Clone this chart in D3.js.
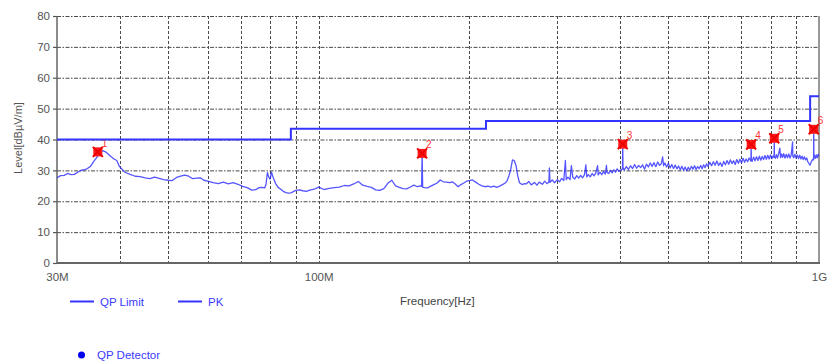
<!DOCTYPE html>
<html>
<head>
<meta charset="utf-8">
<script src="https://cdn.jsdelivr.net/npm/d3@7/dist/d3.min.js"></script>
<style>
  html, body { margin: 0; padding: 0; background: #ffffff; }
  svg { display: block; font-family: "Liberation Sans", Arial, sans-serif; }
</style>
</head>
<body>
<svg id="chart" width="827" height="364"></svg>
<script>
// Frequency axis (MHz)
const freqDomain = [30, 1000];
const freqGrid = [40, 50, 60, 70, 80, 90, 100, 200, 300, 400, 500, 600, 700, 800, 900, 1000];
const freqTickValues = [30, 100, 1000];
const freqTickLabels = ["30M", "100M", "1G"];

// Level axis (dBµV/m)
const levelDomain = [0, 80];
const levelTicks = [0, 10, 20, 30, 40, 50, 60, 70, 80];

// QP limit steps: [start MHz, end MHz, level]
const qpLimit = [
  [30, 88, 40],
  [88, 216, 43.5],
  [216, 960, 46],
  [960, 1000, 54]
];

// PK sweep: [MHz, dBµV/m]
const pkTrace = [
  [30, 27.6], [30.5, 28.3], [31, 28.4], [31.5, 29.0], [32, 28.6], [32.5, 28.7], [33, 29.4], [33.5, 30.0],
  [34, 30.2], [34.5, 30.6], [35, 31.3], [35.5, 32.8], [36, 34.1], [36.5, 35.4], [37, 36.4], [37.5, 36.0],
  [38, 35.2], [38.5, 34.4], [39, 33.7], [39.5, 33.2], [40, 31.2], [41, 29.4], [42, 28.7], [43, 28.1],
  [44, 28.0], [45, 27.6], [46, 27.3], [47, 27.8], [48, 27.4], [49, 27.0], [50, 26.8], [51, 26.7],
  [52, 27.7], [53, 28.1], [54, 28.5], [55, 28.1], [56, 27.3], [57, 27.5], [58, 27.6], [59, 26.8],
  [60, 26.5], [61.5, 26.0], [63, 25.7], [64.5, 26.2], [66, 25.6], [67.5, 26.0], [69, 25.5], [70.5, 24.8],
  [72, 24.4], [73.5, 23.6], [75, 23.8], [76, 24.4], [77, 24.5], [78, 24.3], [78.5, 25.5], [79, 29.3],
  [79.5, 27.8], [80, 27.2], [80.5, 29.4], [81, 28.0], [81.5, 26.9], [82, 25.8], [83, 24.5], [84, 23.9],
  [85, 23.2], [86, 22.8], [87, 22.6], [88, 22.7], [89, 23.1], [90, 23.5], [91.5, 23.7], [93, 23.4],
  [94.5, 23.2], [96, 23.6], [98, 23.9], [100, 24.6], [102.5, 23.8], [105, 24.2], [107.5, 24.4], [110, 24.6],
  [112.5, 25.1], [115, 25.0], [117.5, 25.6], [120, 26.4], [122.5, 25.2], [125, 24.8], [127.5, 24.5], [130, 23.7],
  [132.5, 23.5], [135, 24.1], [137.5, 25.8], [140, 26.8], [142.5, 25.0], [145, 24.5], [147.5, 24.1], [150, 24.0],
  [152.5, 24.6], [155, 25.2], [157.5, 24.7], [159.5, 25.0], [160.6, 24.8], [161, 35.5], [161.4, 24.6], [162.5, 24.4],
  [165, 24.3], [167.5, 24.9], [170, 25.4], [172.5, 25.9], [175, 26.9], [177.5, 26.3], [180, 26.2], [182.5, 26.0],
  [185, 26.3], [187.5, 25.6], [190, 24.7], [192.5, 25.4], [195, 25.9], [197.5, 26.5], [200, 26.7], [203, 26.9],
  [206, 26.2], [209, 25.5], [212, 25.0], [215, 24.7], [218, 24.9], [221, 24.6], [224, 24.9], [227, 24.5],
  [230, 24.9], [233, 25.4], [236, 25.9], [238, 26.6], [240, 28.2], [242, 30.2], [244, 33.4], [246, 33.2],
  [248, 31.6], [250, 28.2], [252, 26.0], [255, 25.4], [258, 25.7], [260, 25.6], [263, 26.4], [266, 25.3],
  [270, 26.1], [273, 25.2], [276, 26.2], [280, 25.5], [283, 26.5], [286, 25.7], [288.5, 26.2], [289.2, 30.8],
  [290, 26.1], [293, 26.9], [296, 26.0], [300, 27.0], [303, 26.3], [306, 27.4], [309, 26.7], [311.3, 33.2],
  [312.5, 27.0], [315, 27.8], [318, 27.0], [320, 31.5], [322, 27.8], [325, 27.2], [328, 28.3], [331, 27.5],
  [334, 28.4], [337, 27.6], [340, 28.7], [342, 31.8], [343.5, 27.9], [346, 28.6], [349, 27.9], [352, 29.0],
  [355, 28.2], [358, 29.1], [361, 31.5], [362, 28.5], [365, 29.4], [368, 28.6], [371, 29.6], [374, 28.8],
  [376, 31.6], [377, 29.3], [380, 29.0], [383, 30.0], [386, 29.2], [389, 30.2], [392, 29.4], [395, 30.5],
  [398, 29.7], [400, 30.0], [404.8, 30.4], [405.3, 38.5], [405.8, 30.9], [408, 30.1], [412, 31.2], [416, 30.3],
  [420, 31.5], [424, 30.6], [428, 31.9], [432, 30.7], [436, 31.6], [440, 30.9], [444, 31.8], [448, 30.4],
  [452, 32.0], [456, 31.1], [460, 32.4], [464, 31.3], [468, 32.5], [472, 31.2], [476, 32.7], [480, 31.6],
  [484, 32.2], [487, 34.4], [489, 31.5], [492, 32.4], [496, 31.1], [500, 32.3], [504, 30.8], [508, 31.9],
  [512, 30.6], [516, 31.7], [520, 30.5], [524, 31.4], [528, 30.2], [532, 31.3], [536, 30.0], [540, 31.1],
  [544, 29.9], [548, 31.0], [552, 30.1], [556, 31.3], [560, 30.4], [564, 31.5], [568, 30.3], [572, 31.2],
  [576, 30.6], [580, 31.6], [584, 30.5], [588, 31.8], [592, 30.9], [596, 32.1], [600, 31.3], [605, 32.6],
  [610, 31.5], [615, 32.8], [620, 31.7], [625, 33.0], [630, 31.6], [635, 32.5], [640, 31.3], [645, 32.9],
  [650, 31.8], [655, 33.2], [660, 32.0], [665, 33.4], [670, 32.2], [675, 33.1], [680, 31.9], [685, 33.5],
  [690, 32.3], [695, 33.6], [700, 32.5], [705, 33.9], [710, 32.6], [715, 33.7], [720, 32.8], [725, 34.0],
  [731, 33.0], [731.8, 38.4], [732.6, 33.6], [735, 32.9], [740, 34.3], [745, 33.1], [750, 34.4], [755, 33.2],
  [760, 34.6], [765, 33.3], [770, 34.5], [775, 33.5], [780, 34.8], [785, 33.6], [790, 34.9], [795, 33.7],
  [800, 35.0], [805, 33.8], [810, 34.7], [813.4, 34.2], [814, 40.4], [814.6, 34.5], [818, 33.9], [822, 35.1],
  [826, 34.0], [830, 35.2], [835, 37.2], [838, 34.1], [842, 35.3], [846, 34.2], [850, 35.4], [855, 34.0],
  [860, 35.2], [865, 34.1], [870, 35.3], [875, 34.0], [880, 35.0], [885.5, 39.2], [886.5, 34.6], [890, 34.1],
  [895, 35.2], [900, 34.0], [905, 35.0], [910, 33.8], [915, 34.9], [920, 33.7], [925, 34.6], [930, 33.5],
  [935, 34.4], [940, 33.4], [945, 34.0], [950, 32.8], [955, 32.2], [960, 31.7], [964, 32.6], [968, 33.2],
  [972, 33.6], [975.3, 33.4], [976, 43.3], [976.7, 33.8], [980, 34.9], [984, 33.9], [988, 35.0], [992, 34.1],
  [996, 35.2], [1000, 34.6]
];

// QP detector final measurement points
const markerIds = ["1", "2", "3", "4", "5", "6"];
const markerFreq = [36.2, 161, 405.3, 731.8, 814, 976];
const markerLevel = [36.0, 35.5, 38.5, 38.4, 40.4, 43.3];

const svg = d3.select("#chart");
const plotLeft = 57, plotRight = 819, plotTop = 16, plotBottom = 263;

const x = d3.scaleLog().domain(freqDomain).range([plotLeft, plotRight]);
const y = d3.scaleLinear().domain(levelDomain).range([plotBottom, plotTop]);

const gridColor = "#4a4a4a";
const textColor = "#555555";
const blue = "#3434ff";

// horizontal grid lines
svg.append("g")
  .selectAll("line")
  .data(levelTicks.filter(d => d > 0))
  .join("line")
  .attr("x1", plotLeft).attr("x2", plotRight)
  .attr("y1", d => y(d) + 0.5).attr("y2", d => y(d) + 0.5)
  .attr("stroke", gridColor)
  .attr("stroke-width", 1)
  .attr("stroke-dasharray", "4,1.5,1.5,1.5");

// vertical grid lines
svg.append("g")
  .selectAll("line")
  .data(freqGrid.filter(d => d < 1000))
  .join("line")
  .attr("x1", d => Math.round(x(d)) + 0.5).attr("x2", d => Math.round(x(d)) + 0.5)
  .attr("y1", plotTop).attr("y2", plotBottom)
  .attr("stroke", gridColor)
  .attr("stroke-width", 1)
  .attr("stroke-dasharray", "3,2");

// frame: left, bottom, right
svg.append("line")
  .attr("x1", plotLeft).attr("x2", plotLeft)
  .attr("y1", plotTop).attr("y2", plotBottom)
  .attr("stroke", "#666").attr("stroke-width", 1.5);
svg.append("line")
  .attr("x1", plotRight).attr("x2", plotRight)
  .attr("y1", plotTop).attr("y2", plotBottom)
  .attr("stroke", "#777").attr("stroke-width", 1.5);
svg.append("line")
  .attr("x1", plotLeft).attr("x2", plotRight + 1)
  .attr("y1", plotBottom).attr("y2", plotBottom)
  .attr("stroke", "#666").attr("stroke-width", 2);

// y axis ticks and labels
const yAxis = svg.append("g")
  .attr("transform", `translate(${plotLeft},0)`)
  .call(d3.axisLeft(y).tickValues(levelTicks).tickSize(4).tickPadding(3).tickFormat(d3.format("d")));
yAxis.select(".domain").remove();
yAxis.selectAll(".tick line").attr("stroke", "#555").attr("stroke-width", 1.2);
yAxis.selectAll(".tick text")
  .attr("fill", textColor)
  .style("font-size", "11.5px");

// x axis labels
const xAxis = svg.append("g")
  .attr("transform", `translate(0,${plotBottom})`)
  .call(d3.axisBottom(x).tickValues(freqTickValues).tickSize(0).tickPadding(10)
    .tickFormat((d, i) => freqTickLabels[i]));
xAxis.select(".domain").remove();
xAxis.selectAll(".tick text")
  .attr("fill", textColor)
  .style("font-size", "11.5px");

// axis titles
svg.append("text")
  .attr("transform", "translate(22,138) rotate(-90)")
  .attr("text-anchor", "middle")
  .attr("fill", textColor)
  .style("font-size", "11px")
  .text("Level[dBµV/m]");
svg.append("text")
  .attr("x", 400).attr("y", 305)
  .attr("fill", "#444")
  .style("font-size", "11.5px")
  .text("Frequency[Hz]");

// PK trace
const line = d3.line()
  .x(d => x(d[0]))
  .y(d => y(d[1]));
svg.append("path")
  .datum(pkTrace)
  .attr("fill", "none")
  .attr("stroke", "#2b2bff")
  .attr("stroke-width", 1.3)
  .attr("stroke-linejoin", "round")
  .attr("opacity", 0.8)
  .attr("d", line);

// QP detector markers
const markers = markerIds.map((id, i) => ({ id, f: markerFreq[i], v: markerLevel[i] }));
const mg = svg.append("g").selectAll("g")
  .data(markers)
  .join("g")
  .attr("transform", d => `translate(${x(d.f)},${y(d.v)})`);
mg.append("rect")
  .attr("x", -4.5).attr("y", -4.5).attr("width", 9).attr("height", 9)
  .attr("fill", "#ff1a1a");
mg.append("path")
  .attr("d", "M-5,-5L5,5M5,-5L-5,5")
  .attr("stroke", "#ee0000").attr("stroke-width", 2);
mg.append("text")
  .attr("x", 4).attr("y", -5)
  .attr("fill", "#ff3030")
  .style("font-size", "10px")
  .text(d => d.id);

// QP limit (stepped)
const limitPts = [];
qpLimit.forEach(s => { limitPts.push([s[0], s[2]]); limitPts.push([s[1], s[2]]); });
svg.append("path")
  .datum(limitPts)
  .attr("fill", "none")
  .attr("stroke", blue)
  .attr("stroke-width", 2)
  .attr("d", line);

// legend
const legend = svg.append("g");
const legendItems = [
  { label: "QP Limit", x0: 70 },
  { label: "PK", x0: 178 }
];
legendItems.forEach(it => {
  legend.append("line")
    .attr("x1", it.x0).attr("x2", it.x0 + 24)
    .attr("y1", 301.5).attr("y2", 301.5)
    .attr("stroke", blue).attr("stroke-width", 2);
  legend.append("text")
    .attr("x", it.x0 + 30).attr("y", 305.5)
    .attr("fill", "#3a3aff")
    .style("font-size", "11.5px")
    .text(it.label);
});
legend.append("circle")
  .attr("cx", 81.5).attr("cy", 355).attr("r", 3.5)
  .attr("fill", "#0000ee");
legend.append("text")
  .attr("x", 97).attr("y", 359)
  .attr("fill", "#3a3aff")
  .style("font-size", "11.5px")
  .text("QP Detector");
</script>
</body>
</html>
